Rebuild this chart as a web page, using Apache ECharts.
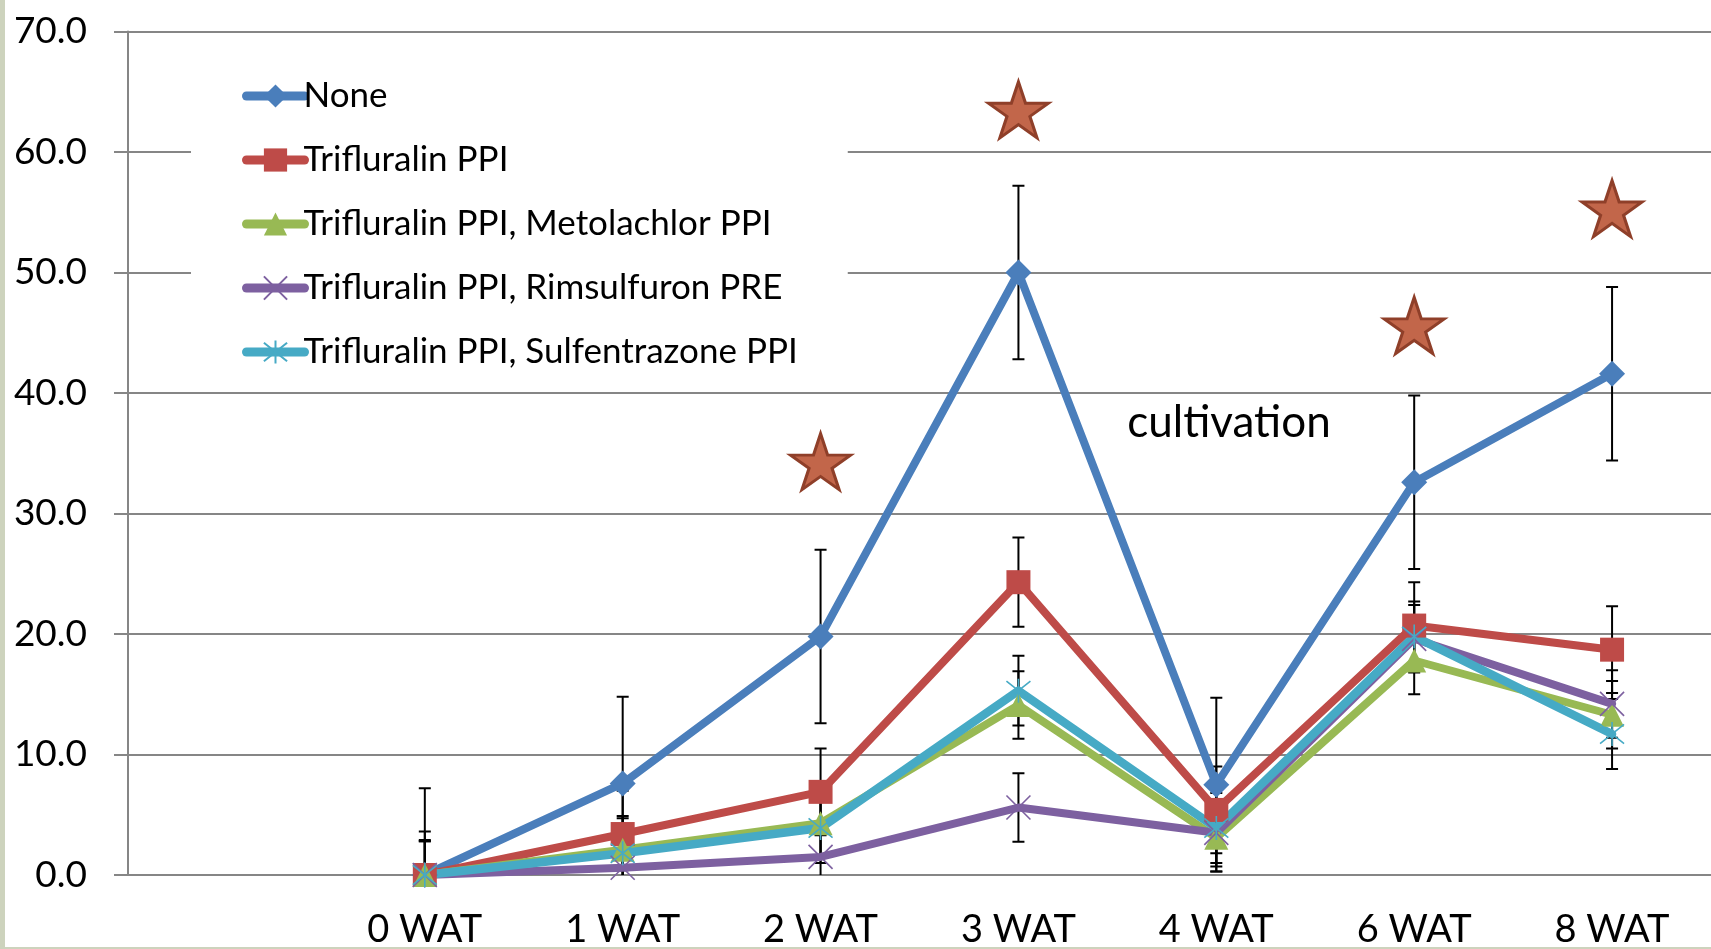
<!DOCTYPE html>
<html>
<head>
<meta charset="utf-8">
<script src="https://cdn.jsdelivr.net/npm/echarts@6/dist/echarts.min.js"></script>
<style>
  html, body { margin: 0; padding: 0; background: #fff; }
  #main { width: 1711px; height: 949px; }
</style>
</head>
<body>
<div id="main"></div>
<script>
var categories = ['', '0 WAT', '1 WAT', '2 WAT', '3 WAT', '4 WAT', '6 WAT', '8 WAT'];
var yTicks = [0, 10, 20, 30, 40, 50, 60, 70];

var seriesNames = [
  'None',
  'Trifluralin PPI',
  'Trifluralin PPI, Metolachlor PPI',
  'Trifluralin PPI, Rimsulfuron PRE',
  'Trifluralin PPI, Sulfentrazone PPI'
];

var noneVals        = [null, 0, 7.6, 19.8, 50.0, 7.5, 32.6, 41.6];
var trifluralinVals = [null, 0, 3.4, 6.9, 24.3, 5.4, 20.7, 18.7];
var metolachlorVals = [null, 0, 2.1, 4.3, 14.1, 3.1, 17.8, 13.3];
var rimsulfuronVals = [null, 0, 0.6, 1.5, 5.6, 3.5, 19.6, 14.2];
var sulfentrazVals  = [null, 0, 1.8, 3.9, 15.3, 3.9, 19.8, 11.7];

// error bar half-widths (+/-)
var noneErr        = [null, 7.2, 7.2, 7.2, 7.2, 7.2, 7.2, 7.2];
var trifluralinErr = [null, 3.6, 3.6, 3.6, 3.7, 3.6, 3.6, 3.6];
var metolachlorErr = [null, 2.8, 2.8, 2.8, 2.8, 2.8, 2.8, 2.8];
var rimsulfuronErr = [null, 2.8, 2.8, 2.8, 2.85, 2.8, 2.8, 2.8];
var sulfentrazErr  = [null, 2.9, 2.9, 2.9, 2.9, 2.9, 2.9, 2.9];

// significance stars
var starVals = [null, null, null, 34.3, 63.5, null, 45.6, 55.3];

var allVals = [noneVals, trifluralinVals, metolachlorVals, rimsulfuronVals, sulfentrazVals];
var allErr = [noneErr, trifluralinErr, metolachlorErr, rimsulfuronErr, sulfentrazErr];

var colors = ['#4a7ebb', '#be4b48', '#98b954', '#7d60a0', '#46aac5'];
var symbols = [
  'diamond',
  'rect',
  'triangle',
  'path://M0,0L20,20M20,0L0,20',
  'path://M2,2L18,18M18,2L2,18M10,0L10,20'
];
var symbolSizes = [26, 24, 24, 24, 24];
var starPath = 'path://M50,0L61.23,34.55L97.55,34.55L68.17,55.9L79.39,90.45L50,69.1L20.61,90.45L31.83,55.9L2.45,34.55L38.77,34.55Z';

var font = 'Lato, "Open Sans", sans-serif';

var myChart = echarts.init(document.getElementById('main'));

var series = [];
// error bars first (drawn under the lines)
allVals.forEach(function (vals, s) {
  var d = [];
  vals.forEach(function (v, i) {
    if (v !== null) d.push([i, v, allErr[s][i]]);
  });
  series.push({
    type: 'custom',
    name: seriesNames[s] + ' err',
    clip: true,
    z: 1,
    silent: true,
    encode: { x: 0, y: 1 },
    data: d,
    renderItem: function (params, api) {
      var i = api.value(0), v = api.value(1), e = api.value(2);
      var top = api.coord([i, v + e]);
      var bot = api.coord([i, v - e]);
      var hw = 6;
      var st = { stroke: '#000', lineWidth: 2 };
      return {
        type: 'group',
        children: [
          { type: 'line', shape: { x1: top[0], y1: top[1], x2: bot[0], y2: bot[1] }, style: st },
          { type: 'line', shape: { x1: top[0] - hw, y1: top[1], x2: top[0] + hw, y2: top[1] }, style: st },
          { type: 'line', shape: { x1: bot[0] - hw, y1: bot[1], x2: bot[0] + hw, y2: bot[1] }, style: st }
        ]
      };
    }
  });
});

allVals.forEach(function (vals, s) {
  var isStroke = s >= 3;
  series.push({
    name: seriesNames[s],
    type: 'line',
    z: 3,
    data: vals,
    symbol: symbols[s],
    symbolSize: symbolSizes[s],
    showAllSymbol: true,
    connectNulls: false,
    lineStyle: { color: colors[s], width: s === 4 ? 8.5 : 8, cap: 'round', join: 'round' },
    itemStyle: isStroke
      ? { color: colors[s], borderColor: colors[s], borderWidth: 1.6 }
      : { color: colors[s], borderWidth: 0 },
    emphasis: { disabled: true }
  });
});

series.push({
  name: 'stars',
  type: 'scatter',
  z: 4,
  data: starVals,
  symbol: starPath,
  symbolSize: [60, 56],
  itemStyle: { color: '#c2664a', borderColor: '#8f3f29', borderWidth: 3, opacity: 1 },
  emphasis: { disabled: true }
});

var option = {
  backgroundColor: '#fff',
  animation: false,
  textStyle: { fontFamily: font },
  graphic: [
    { type: 'rect', left: 0, top: 0, z: 100, shape: { width: 5, height: 949 }, style: { fill: '#cdd3bd' } },
    { type: 'rect', left: 0, top: 947, z: 100, shape: { width: 1711, height: 2 }, style: { fill: '#cdd3bd' } },
    {
      type: 'group',
      left: 1097,
      top: 362,
      z: 50,
      children: [
        { type: 'rect', shape: { x: 0, y: 0, width: 265, height: 110 }, style: { fill: '#fff' } },
        {
          type: 'text',
          x: 132,
          y: 61,
          style: {
            text: 'cultivation',
            fill: '#000',
            font: '44px ' + font,
            align: 'center',
            verticalAlign: 'middle'
          }
        }
      ]
    }
  ],
  legend: {
    data: seriesNames,
    orient: 'vertical',
    left: 191,
    top: 54,
    backgroundColor: '#fff',
    padding: [22, 50, 16, 51],
    itemWidth: 58,
    itemHeight: 29,
    itemGap: 24,
    selectedMode: false,
    lineStyle: { width: 9, cap: 'round' },
    textStyle: { color: '#000', fontSize: 35, fontFamily: font, padding: [0, 0, 0, -6], lineHeight: 40 }
  },
  grid: {
    left: 128,
    right: -5,
    top: 31.5,
    bottom: 71,
    containLabel: false
  },
  xAxis: {
    type: 'category',
    data: categories,
    boundaryGap: true,
    axisLine: { lineStyle: { color: '#868686', width: 2 } },
    axisTick: { length: 12, lineStyle: { color: '#868686', width: 2 } },
    axisLabel: { color: '#000', fontSize: 38, fontFamily: font, margin: 36, interval: 0 },
    splitLine: { show: false }
  },
  yAxis: {
    type: 'value',
    min: yTicks[0],
    max: yTicks[yTicks.length - 1],
    interval: 10,
    axisLine: { show: true, lineStyle: { color: '#868686', width: 2 } },
    axisTick: { show: true, length: 14, lineStyle: { color: '#868686', width: 2 } },
    axisLabel: {
      color: '#000',
      fontSize: 37,
      fontFamily: font,
      margin: 41,
      formatter: function (v) { return v.toFixed(1); }
    },
    splitLine: { show: true, lineStyle: { color: '#868686', width: 2 } }
  },
  series: series
};

myChart.setOption(option);
</script>
</body>
</html>
